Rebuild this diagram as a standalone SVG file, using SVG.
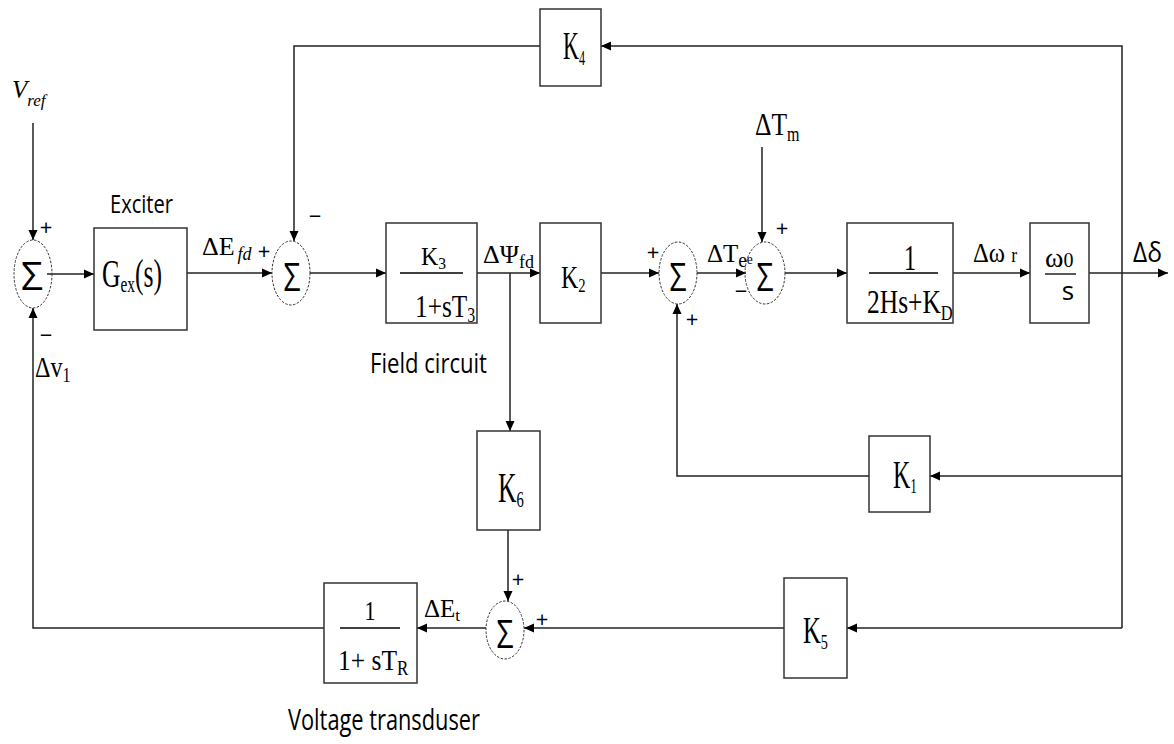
<svg xmlns="http://www.w3.org/2000/svg" width="1174" height="744" viewBox="0 0 1174 744">
<defs>
<marker id="ah" markerWidth="11" markerHeight="10" refX="10" refY="5" orient="auto" markerUnits="userSpaceOnUse"><path d="M0,0.5 L10,5 L0,9.5 Z" fill="#000"/></marker>
</defs>
<style>
.blk{fill:#fff;stroke:#333;stroke-width:1.5}
.sum{fill:none;stroke:#333;stroke-width:1;stroke-dasharray:2.5,1.5}
.w{fill:none;stroke:#222;stroke-width:1.5}
.a{marker-end:url(#ah)}
.fr{stroke:#000;stroke-width:1.3}
.s{font-family:"Liberation Serif","Times New Roman",serif;fill:#000}
.ss{font-family:"Open Sans","Liberation Sans",sans-serif;fill:#000}
.sg{font-family:"Open Sans","DejaVu Sans",sans-serif;fill:#000;font-size:22px;text-anchor:middle}
.sig{font-family:"Open Sans","DejaVu Sans",sans-serif;fill:#000;font-size:38px;text-anchor:middle}
</style>
<rect width="1174" height="744" fill="#fff"/>

<g id="connectors">
  <path class="w a" d="M33,123 V240"/>
  <path class="w a" d="M47,274 H94"/>
  <path class="w a" d="M187,273 H272"/>
  <path class="w a" d="M540,46 H294 V241"/>
  <path class="w a" d="M1122,628 V46 H601"/>
  <path class="w a" d="M310,273 H386"/>
  <path class="w a" d="M477,273 H540"/>
  <path class="w a" d="M510,273 V431"/>
  <path class="w a" d="M601,273 H659"/>
  <path class="w a" d="M697,273 H746"/>
  <path class="w a" d="M762,147 V242"/>
  <path class="w a" d="M785,273 H847"/>
  <path class="w a" d="M953,273 H1030"/>
  <path class="w a" d="M1089,273 H1168"/>
  <path class="w a" d="M1122,476 H930"/>
  <path class="w a" d="M869,476 H677 V304"/>
  <path class="w a" d="M1122,628 H847"/>
  <path class="w a" d="M784,628 H524"/>
  <path class="w a" d="M508,530 V601"/>
  <path class="w a" d="M486,628 H417"/>
  <path class="w a" d="M324,628 H33 V308"/>
</g>

<g id="vref">
  <text class="s" x="12" y="98" font-size="25" font-style="italic">V<tspan font-size="17" dy="8">ref</tspan></text>
</g>

<g id="sum1">
  <ellipse class="sum" cx="33" cy="274" rx="19" ry="34"/>
  <text class="sig" x="32" y="290" textLength="22" lengthAdjust="spacingAndGlyphs">Σ</text>
  <text class="sg" x="46" y="235">+</text>
  <text class="sg" x="46" y="343">−</text>
</g>

<g id="dv1">
  <text class="s" transform="translate(35,377) scale(0.8,1)" font-size="30">Δv<tspan font-size="20" dy="5">1</tspan></text>
</g>

<g id="exciter">
  <text class="ss" x="110" y="213" font-size="26" textLength="63" lengthAdjust="spacingAndGlyphs">Exciter</text>
  <rect class="blk" x="94" y="228" width="93" height="102"/>
  <text class="s" transform="translate(102,287) scale(0.64,1)" font-size="40">G<tspan font-size="24" dy="5">ex</tspan><tspan dy="-5">(s)</tspan></text>
</g>

<g id="defd">
  <text class="s" x="202" y="255" font-size="26">ΔE<tspan font-size="18" dy="5" dx="3" font-style="italic">fd</tspan></text>
</g>

<g id="sum2">
  <ellipse class="sum" cx="291" cy="273" rx="19" ry="32"/>
  <text class="sig" x="292" y="291" textLength="17" lengthAdjust="spacingAndGlyphs">Σ</text>
  <text class="sg" x="264" y="259">+</text>
  <text class="sg" x="315" y="224">−</text>
</g>

<g id="k4">
  <rect class="blk" x="540" y="9" width="61" height="77"/>
  <text class="s" transform="translate(563,59) scale(0.55,1)" font-size="40">K<tspan font-size="22" dy="6">4</tspan></text>
</g>

<g id="field">
  <rect class="blk" x="386" y="223" width="91" height="100"/>
  <text class="s" transform="translate(421,265) scale(0.92,1)" font-size="26">K<tspan font-size="17" dy="4">3</tspan></text>
  <line class="fr" x1="400" y1="273" x2="463" y2="273"/>
  <text class="s" transform="translate(415,317) scale(0.79,1)" font-size="32">1+sT<tspan font-size="20" dy="5">3</tspan></text>
  <text class="ss" x="370" y="373" font-size="28" textLength="117" lengthAdjust="spacingAndGlyphs">Field circuit</text>
</g>

<g id="dpsi">
  <text class="s" x="483" y="263" font-size="26">ΔΨ<tspan font-size="18" dy="5">fd</tspan></text>
</g>

<g id="k2">
  <rect class="blk" x="540" y="223" width="61" height="100"/>
  <text class="s" transform="translate(561,288) scale(0.77,1)" font-size="31">K<tspan font-size="19" dy="4">2</tspan></text>
</g>

<g id="sum3">
  <ellipse class="sum" cx="678" cy="273" rx="19" ry="31"/>
  <text class="sig" x="678" y="291" textLength="17" lengthAdjust="spacingAndGlyphs">Σ</text>
  <text class="sg" x="653" y="260">+</text>
  <text class="sg" x="692" y="327">+</text>
</g>

<g id="dte">
  <text class="s" transform="translate(707,262) scale(0.96,1)" font-size="26">ΔT<tspan font-size="20" dy="5">e</tspan><tspan font-size="14" dy="-3">e</tspan></text>
</g>

<g id="dtm">
  <text class="s" transform="translate(755,135) scale(0.8,1)" font-size="32">ΔT<tspan font-size="20" dy="6">m</tspan></text>
</g>

<g id="sum4">
  <ellipse class="sum" cx="765" cy="273" rx="20" ry="31"/>
  <text class="sig" x="765" y="291" textLength="17" lengthAdjust="spacingAndGlyphs">Σ</text>
  <text class="sg" x="782" y="236">+</text>
  <text class="sg" x="741" y="299">−</text>
</g>

<g id="mech">
  <rect class="blk" x="847" y="223" width="106" height="100"/>
  <text class="s" x="910" y="270" font-size="36" text-anchor="middle" textLength="12" lengthAdjust="spacingAndGlyphs">1</text>
  <line class="fr" x1="869" y1="273" x2="938" y2="273"/>
  <text class="s" transform="translate(867,313) scale(0.75,1)" font-size="34">2Hs+K<tspan font-size="22" dy="7">D</tspan></text>
</g>

<g id="dw">
  <text class="s" transform="translate(973,262) scale(0.88,1)" font-size="28">Δω <tspan font-size="20">r</tspan></text>
</g>

<g id="integ">
  <rect class="blk" x="1030" y="223" width="59" height="100"/>
  <text class="s" x="1045" y="267" font-size="28">ω<tspan font-size="20">0</tspan></text>
  <line class="fr" x1="1045" y1="274" x2="1076" y2="274"/>
  <text class="ss" x="1068" y="300" font-size="26" text-anchor="middle">s</text>
</g>

<g id="ddelta">
  <text class="ss" x="1133" y="262" font-size="28" textLength="29" lengthAdjust="spacingAndGlyphs">Δδ</text>
</g>

<g id="k1">
  <rect class="blk" x="869" y="436" width="61" height="76"/>
  <text class="s" transform="translate(893,488) scale(0.6,1)" font-size="40">K<tspan font-size="22" dy="5">1</tspan></text>
</g>

<g id="k6">
  <rect class="blk" x="477" y="431" width="63" height="99"/>
  <text class="s" transform="translate(498,502) scale(0.61,1)" font-size="42">K<tspan font-size="24" dy="5">6</tspan></text>
</g>

<g id="k5">
  <rect class="blk" x="784" y="578" width="63" height="100"/>
  <text class="s" transform="translate(803,643) scale(0.65,1)" font-size="38">K<tspan font-size="22" dy="6">5</tspan></text>
</g>

<g id="sum5">
  <ellipse class="sum" cx="505" cy="630" rx="19" ry="29"/>
  <text class="sig" x="505" y="648" textLength="17" lengthAdjust="spacingAndGlyphs">Σ</text>
  <text class="sg" x="518" y="587">+</text>
  <text class="sg" x="542" y="627">+</text>
</g>

<g id="det">
  <text class="s" x="424" y="617" font-size="25">ΔE<tspan font-size="17" dy="4">t</tspan></text>
</g>

<g id="transducer">
  <rect class="blk" x="324" y="583" width="93" height="100"/>
  <text class="s" x="370" y="620" font-size="28" text-anchor="middle" textLength="11" lengthAdjust="spacingAndGlyphs">1</text>
  <line class="fr" x1="340" y1="628" x2="400" y2="628"/>
  <text class="s" transform="translate(338,670) scale(0.85,1)" font-size="30">1+ sT<tspan font-size="20" dy="5">R</tspan></text>
  <text class="ss" x="288" y="730" font-size="30" textLength="192" lengthAdjust="spacingAndGlyphs">Voltage transduser</text>
</g>
</svg>
